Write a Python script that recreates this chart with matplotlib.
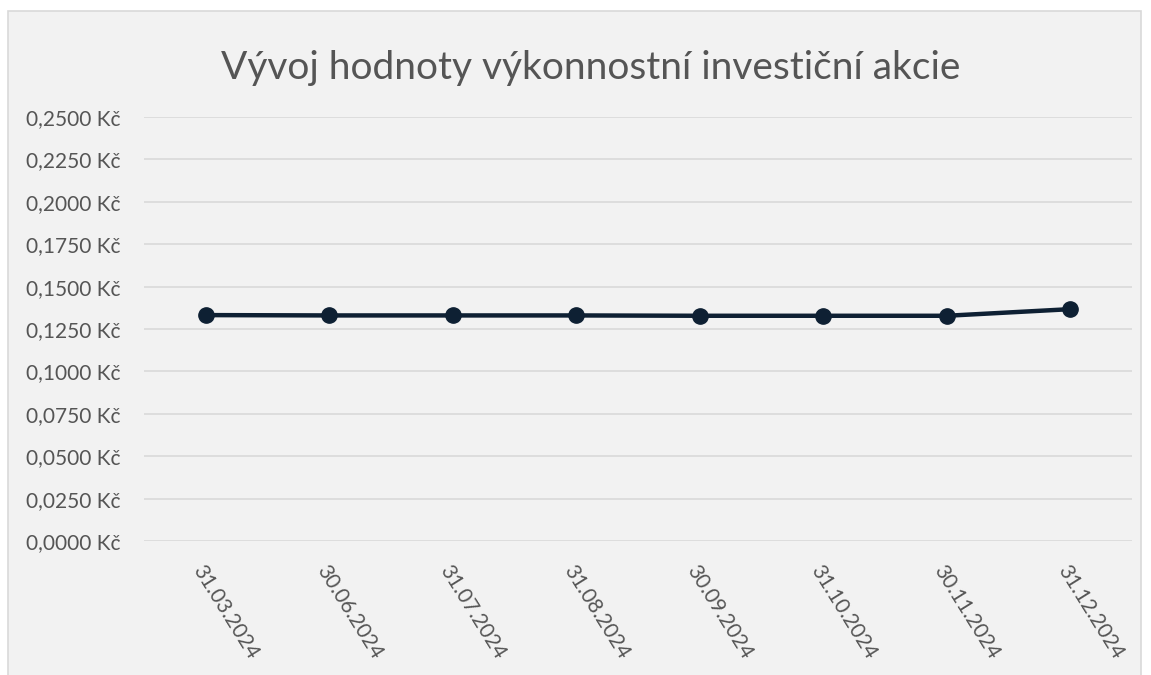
import matplotlib
matplotlib.use("Agg")
import matplotlib.pyplot as plt
from matplotlib.patches import Rectangle
from matplotlib.ticker import FuncFormatter

dates = ["31.03.2024", "30.06.2024", "31.07.2024", "31.08.2024",
         "30.09.2024", "31.10.2024", "30.11.2024", "31.12.2024"]
values = [0.1332, 0.1330, 0.1330, 0.1330, 0.1328, 0.1328, 0.1328, 0.1367]
yticks = [0.0, 0.025, 0.05, 0.075, 0.1, 0.125, 0.15, 0.175, 0.2, 0.225, 0.25]
title = "Vývoj hodnoty výkonnostní investiční akcie"

W, H = 1151, 675
fig = plt.figure(figsize=(W / 100, H / 100), dpi=100, facecolor="white")
plt.rcParams['font.family'] = ['Lato', 'DejaVu Sans']

# chart area box (extends below the image edge)
fig.patches.append(Rectangle((8 / W, -0.05), (1141 - 8) / W, (H - 11) / H + 0.05,
                             transform=fig.transFigure, facecolor="#F2F2F2",
                             edgecolor="#D9D9D9", linewidth=1.2, zorder=-5))

left, right = 144 / W, 1132 / W
top, bottom = 1 - 117 / H, 1 - 541 / H
ax = fig.add_axes([left, bottom, right - left, top - bottom], zorder=2)
ax.set_facecolor("none")

x = list(range(len(dates)))
ax.plot(x, values, color="#0E2033", linewidth=3.2, marker="o",
        markersize=11, solid_capstyle="round", zorder=3)

ax.set_xlim(-0.5, len(dates) - 0.5)
ax.set_ylim(0, 0.25)
ax.set_yticks(yticks)
ax.yaxis.set_major_formatter(FuncFormatter(lambda v, p: f"{v:.4f}".replace(".", ",") + " Kč"))
ax.grid(axis="y", color="#D9D9D9", linewidth=1.2)
ax.set_axisbelow(True)
for s in ax.spines.values():
    s.set_visible(False)
ax.tick_params(axis="both", length=0, colors="#555555", labelsize=15)
ax.tick_params(axis="y", pad=17)

ax.set_xticks(x)
ax.set_xticklabels(dates, rotation=-58, ha="left", va="top", rotation_mode="anchor")
ax.tick_params(axis="x", pad=15)

fig.text(591 / W, 1 - 68 / H, title, ha="center", va="center",
         fontsize=28, color="#555555")

fig.savefig("out.png", dpi=100, facecolor="white")
